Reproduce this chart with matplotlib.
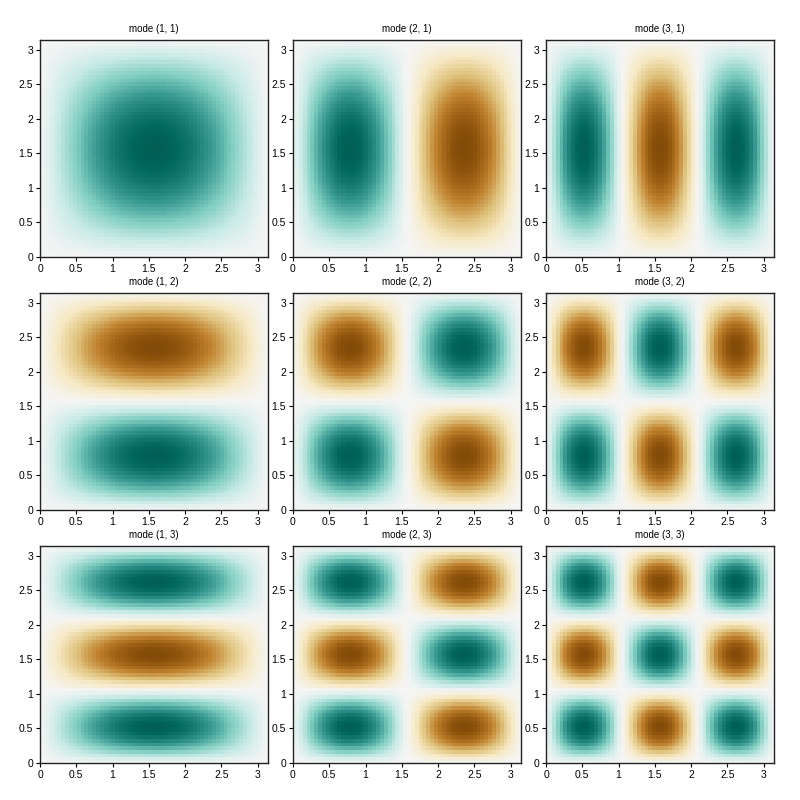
import numpy as np
import matplotlib
matplotlib.use("Agg")
import matplotlib.pyplot as plt

plt.rcParams['font.family'] = ['Liberation Sans', 'DejaVu Sans']

modes_x = [1, 2, 3]
modes_y = [1, 2, 3]
n_grid = 60
ticks = [0, 0.5, 1, 1.5, 2, 2.5, 3]
tick_labels = ['0', '0.5', '1', '1.5', '2', '2.5', '3']

x = np.linspace(0, np.pi, n_grid)
y = np.linspace(0, np.pi, n_grid)
X, Y = np.meshgrid(x, y)

fig = plt.figure(figsize=(8, 8), dpi=100)
lefts = [40, 293, 546]
tops = [40, 293, 546]
w, h = 228, 217
for row, n in enumerate(modes_y):
    for col, m in enumerate(modes_x):
        ax = fig.add_axes([lefts[col] / 800, 1 - (tops[row] + h) / 800, w / 800, h / 800])
        Z = np.sin(m * X) * np.sin(n * Y)
        ax.pcolormesh(x, y, Z, cmap='BrBG', vmin=-1.2, vmax=1.2, shading='nearest')
        ax.set_xlim(0, np.pi)
        ax.set_ylim(0, np.pi)
        ax.set_xticks(ticks)
        ax.set_xticklabels(tick_labels)
        ax.set_yticks(ticks)
        ax.set_yticklabels(tick_labels)
        ax.tick_params(labelsize=7.5, length=3, pad=2)
        ax.set_title(f'mode ({m}, {n})', fontsize=7, pad=6)
        for s in ax.spines.values():
            s.set_linewidth(1.0)
            s.set_color('#222222')

fig.savefig('out.png')
